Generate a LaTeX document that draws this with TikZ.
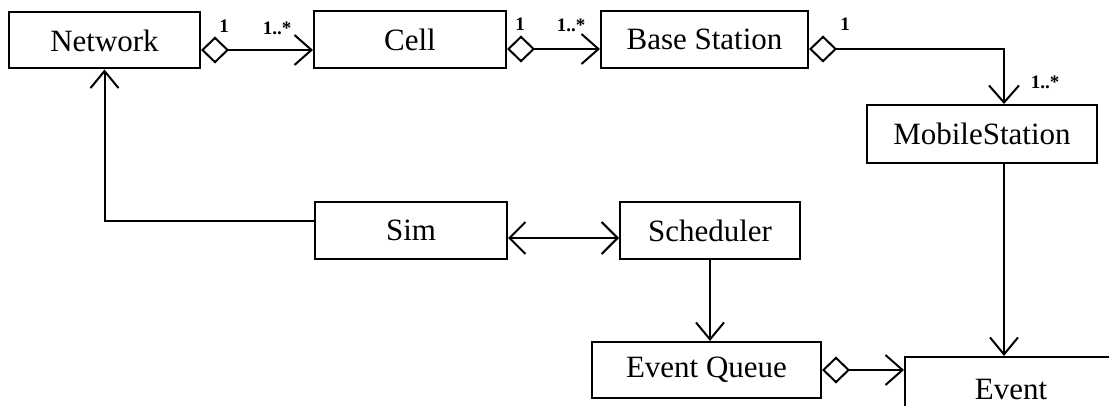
\documentclass[tikz,border=0pt]{standalone}
\usepackage{fontspec}
\setmainfont{Liberation Serif}
\usetikzlibrary{arrows.meta,calc}
\tikzset{
  cls/.style={draw, line width=2pt, rectangle, inner sep=0pt, font=\fontsize{31}{31}\selectfont},
  conn/.style={line width=2pt},
  agg/.style={{Diamond[open,length=28pt,width=27pt,line width=2pt]}-{Straight Barb[length=17pt,width=30pt,line width=2pt]}},
  nav/.style={-{Straight Barb[length=17pt,width=28pt,line width=2pt]}},
  bnav/.style={{Straight Barb[length=16pt,width=32pt,line width=2pt]}-{Straight Barb[length=16pt,width=32pt,line width=2pt]}},
  mult/.style={inner sep=0pt, font=\fontsize{19}{19}\selectfont\bfseries}
}
\begin{document}
\begin{tikzpicture}[x=1pt,y=-1pt]
\useasboundingbox (0,0) rectangle (1109,406);
\clip (0,0) rectangle (1109,406);
\node[cls, minimum width=191pt, minimum height=56pt] (net) at (104.5,40.5) {Network};
\node[cls, minimum width=192pt, minimum height=57pt] (cell) at (410,39.5) {Cell};
\node[cls, minimum width=207pt, minimum height=57pt] (bs) at (704.5,39.5) {Base Station};
\node[cls, minimum width=230pt, minimum height=58pt] (ms) at (982,134) {MobileStation};
\node[cls, minimum width=192pt, minimum height=57pt] (sim) at (411,230.5) {Sim};
\node[cls, minimum width=180pt, minimum height=57pt] (sch) at (710,230.5) {Scheduler};
\node[cls, minimum width=229pt, minimum height=56pt] (eq) at (706.5,370) {Event Queue};
\node[cls, minimum width=212pt, minimum height=66pt] (ev) at (1011,390) {Event};

\draw[conn, agg] ([yshift=-9.5pt]net.east) -- ([yshift=-9.5pt]net.east -| cell.west);
\draw[conn, agg] ([yshift=-9.5pt]cell.east) -- ([yshift=-9.5pt]cell.east -| bs.west);
\draw[conn, agg] ([yshift=-9.5pt]bs.east) -| ([xshift=22pt]ms.north);
\draw[conn, nav] ([yshift=9.5pt]sim.west) -| (net.south);
\draw[conn, bnav] ([yshift=-7.5pt]sim.east) -- ([yshift=-7.5pt]sch.west);
\draw[conn, nav] (sch.south) -- (sch.south |- eq.north);
\draw[conn, nav] ([xshift=22pt]ms.south) -- ([xshift=22pt]ms.south |- ev.north);
\draw[conn, agg] (eq.east) -- (eq.east -| ev.west);

\node[mult] (m1) at (224,26) {1};
\node[mult] (m2) at (277,28) {1..*};
\node[mult] (m3) at (520,24) {1};
\node[mult] (m4) at (571,25) {1..*};
\node[mult] (m5) at (845,24) {1};
\node[mult] (m6) at (1045,82) {1..*};
\end{tikzpicture}
\end{document}
